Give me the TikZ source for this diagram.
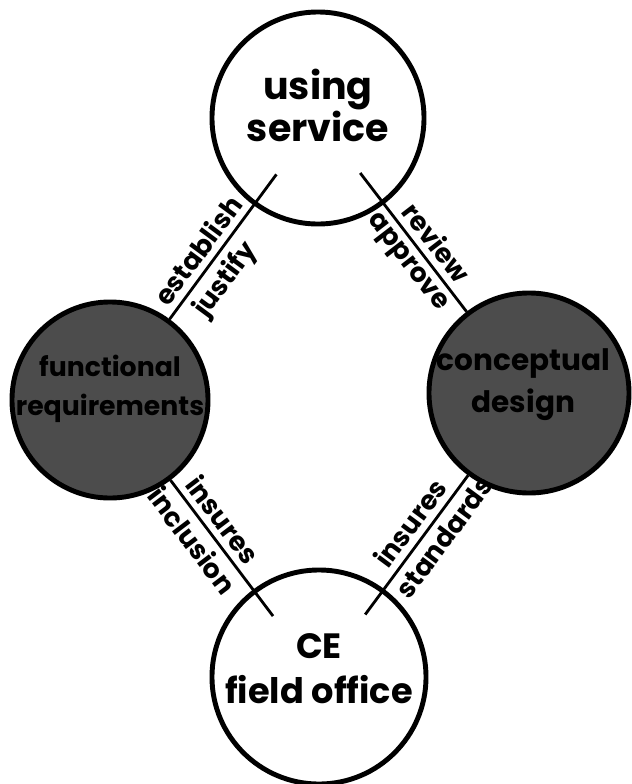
\documentclass[tikz,border=0pt]{standalone}
\usepackage{fontspec}
\setmainfont{Poppins}
\usetikzlibrary{calc}
\tikzset{
  party/.style={circle, draw=black, line width=3.5pt, fill=white, inner sep=0pt},
  shaded/.style={party, fill=black!70},
  words/.style={align=center, inner sep=0pt, font=\fontsize{27}{30}\selectfont\bfseries},
  darkwords/.style={align=center, inner sep=0pt, text=black, font=\fontsize{19}{28}\selectfont\bfseries},
  link/.style={line width=2pt},
  tag/.style={sloped, inner sep=4.5pt, font=\fontsize{19}{22}\selectfont\bfseries},
}
\begin{document}
\begin{tikzpicture}[x=0.025cm, y=-0.025cm]
\useasboundingbox (0,0) rectangle (632,784);

\node[party, minimum size=5.3cm,
      label={[words, yshift=9pt]center:using\\service}] (service) at (318,118) {};
\node[shaded, minimum size=4.9cm,
      label={[darkwords, yshift=8pt]center:functional\\requirements}] (reqs) at (110,400) {};
\node[shaded, minimum size=5cm,
      label={[darkwords, font=\fontsize{21}{30}\selectfont\bfseries, yshift=6pt, xshift=-4pt]center:conceptual\\design}] (design) at (529,393) {};
\node[party, minimum size=5.35cm,
      label={[words, yshift=6pt, font=\fontsize{25}{32}\selectfont\bfseries]center:CE\\field office}] (office) at (319,677) {};

\draw[link] (reqs) -- ($(service)!.2!(reqs)$)
  node[tag, pos=.4, above] {establish}
  node[tag, pos=.36, below] {justify};
\draw[link] ($(service)!.2!(design)$) -- (design)
  node[tag, pos=.58, above] {review}
  node[tag, pos=.57, below] {approve};
\draw[link] (reqs) -- ($(office)!.22!(reqs)$)
  node[tag, pos=.37, above] {insures}
  node[tag, pos=.36, below] {inclusion};
\draw[link] ($(office)!.22!(design)$) -- (design)
  node[tag, pos=.58, above] {insures}
  node[tag, pos=.63, below] {standards};
\end{tikzpicture}
\end{document}
